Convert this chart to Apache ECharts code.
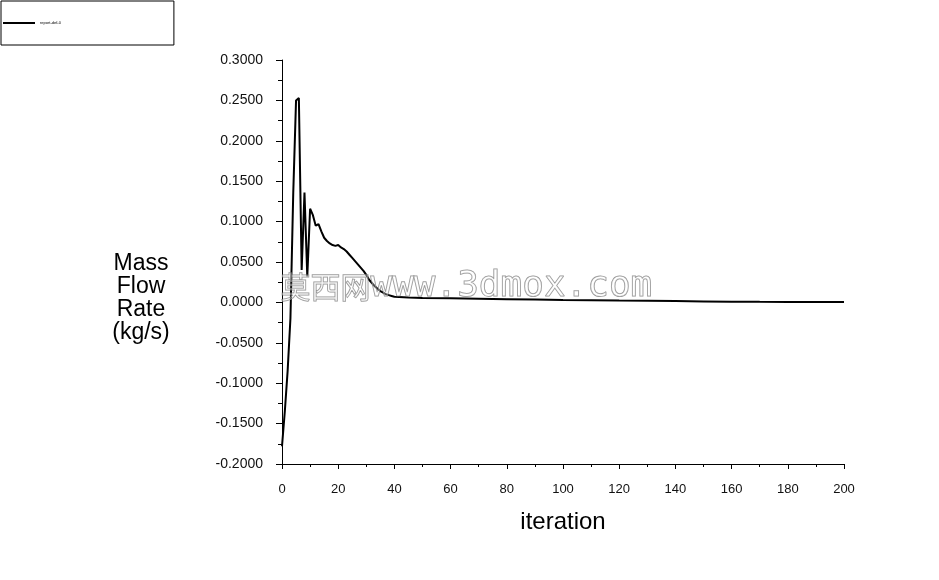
<!DOCTYPE html>
<html>
<head>
<meta charset="utf-8">
<script src="https://cdn.jsdelivr.net/npm/echarts@6/dist/echarts.min.js"></script>
<style>
  html, body { margin: 0; padding: 0; background: #fff; }
  #massFlowChart { width: 939px; height: 580px; }
</style>
</head>
<body>
<div id="massFlowChart"></div>
<script>
// iteration number and mass flow rate (kg/s)
const iterations = [
  0, 1, 2, 3, 4, 5, 6, 7, 8, 9, 10, 11, 12, 13, 14, 15, 16, 17, 18, 19, 20,
  21, 22, 23, 24, 25, 26, 27, 28, 29, 30, 31, 32, 33, 34, 35, 36, 37, 38, 39, 40,
  45, 50, 60, 70, 80, 90, 100, 110, 120, 130, 140, 150, 160, 170, 180, 190, 200
];
const flowRate = [
  -0.178, -0.135, -0.085, -0.02, 0.135, 0.250, 0.253, 0.040, 0.136, 0.032, 0.116,
  0.108, 0.095, 0.097, 0.088, 0.080, 0.076, 0.073, 0.071, 0.070, 0.071,
  0.068, 0.066, 0.063, 0.059, 0.055, 0.051, 0.047, 0.043, 0.039, 0.034,
  0.028, 0.024, 0.020, 0.017, 0.014, 0.012, 0.010, 0.009, 0.008, 0.007,
  0.006, 0.0055, 0.005, 0.0045, 0.004, 0.0035, 0.003, 0.0026, 0.0022, 0.0019, 0.0016, 0.0012,
  0.0009, 0.0007, 0.0006, 0.0005, 0.0004
];
const yTicks = [-0.2, -0.15, -0.1, -0.05, 0, 0.05, 0.1, 0.15, 0.2, 0.25, 0.3];
const xTicks = [0, 20, 40, 60, 80, 100, 120, 140, 160, 180, 200];
const legendName = 'report-def-0';

const chart = echarts.init(document.getElementById('massFlowChart'), null, { renderer: 'canvas' });

const font = 'Liberation Sans, Arial, sans-serif';

const option = {
  backgroundColor: '#ffffff',
  animation: false,
  textStyle: { fontFamily: font },
  legend: {
    left: 1,
    top: 1,
    orient: 'vertical',
    data: [legendName],
    icon: 'rect',
    itemWidth: 32,
    itemHeight: 2,
    itemGap: 4,
    padding: [20, 113, 20, 2],
    borderColor: '#000',
    borderWidth: 1,
    textStyle: { fontSize: 4, color: '#000', fontFamily: font }
  },
  grid: { left: 282, right: 95, top: 60, bottom: 116, containLabel: false },
  xAxis: {
    type: 'value',
    min: xTicks[0],
    max: xTicks[xTicks.length - 1],
    interval: 20,
    name: 'iteration',
    nameLocation: 'middle',
    nameGap: 46,
    nameTextStyle: { fontSize: 24, color: '#000', fontFamily: font },
    axisLine: { onZero: false, lineStyle: { color: '#000', width: 1 } },
    axisTick: { show: true, length: 5, lineStyle: { color: '#000' } },
    minorTick: { show: true, splitNumber: 2, length: 3, lineStyle: { color: '#000' } },
    axisLabel: { fontSize: 13, color: '#111', margin: 19 },
    splitLine: { show: false }
  },
  yAxis: {
    type: 'value',
    min: yTicks[0],
    max: yTicks[yTicks.length - 1],
    interval: 0.05,
    axisLine: { show: true, onZero: false, lineStyle: { color: '#000', width: 1 } },
    axisTick: { show: true, length: 6, lineStyle: { color: '#000' } },
    minorTick: { show: true, splitNumber: 2, length: 4, lineStyle: { color: '#000' } },
    axisLabel: {
      fontSize: 14,
      color: '#111',
      margin: 19,
      formatter: v => v.toFixed(4)
    },
    splitLine: { show: false }
  },
  graphic: [
    {
      type: 'text',
      x: 141,
      y: 252,
      style: {
        text: 'Mass\nFlow\nRate\n(kg/s)',
        fontSize: 23,
        lineHeight: 23,
        fontFamily: font,
        fill: '#000',
        align: 'center',
        verticalAlign: 'top'
      }
    },
    {
      type: 'text',
      left: 280,
      top: 268,
      z: 100,
      style: {
        text: '{a|莫西网}{b|www.3dmox.com}',
        fill: '#ffffff',
        rich: {
          a: {
            fontSize: 30,
            fontFamily: 'Noto Sans CJK SC',
            fill: 'rgba(255,255,255,0.3)',
            stroke: 'rgba(120,120,120,0.8)',
            lineWidth: 1
          },
          b: {
            fontSize: 36,
            fontFamily: 'DejaVu Sans Mono',
            fill: 'rgba(255,255,255,0.3)',
            stroke: 'rgba(120,120,120,0.8)',
            lineWidth: 1
          }
        }
      }
    }
  ],
  series: [
    {
      name: legendName,
      type: 'line',
      symbol: 'none',
      lineStyle: { color: '#000', width: 2 },
      itemStyle: { color: '#000' },
      data: iterations.map((it, k) => [it, flowRate[k]])
    }
  ]
};

chart.setOption(option);
</script>
</body>
</html>
